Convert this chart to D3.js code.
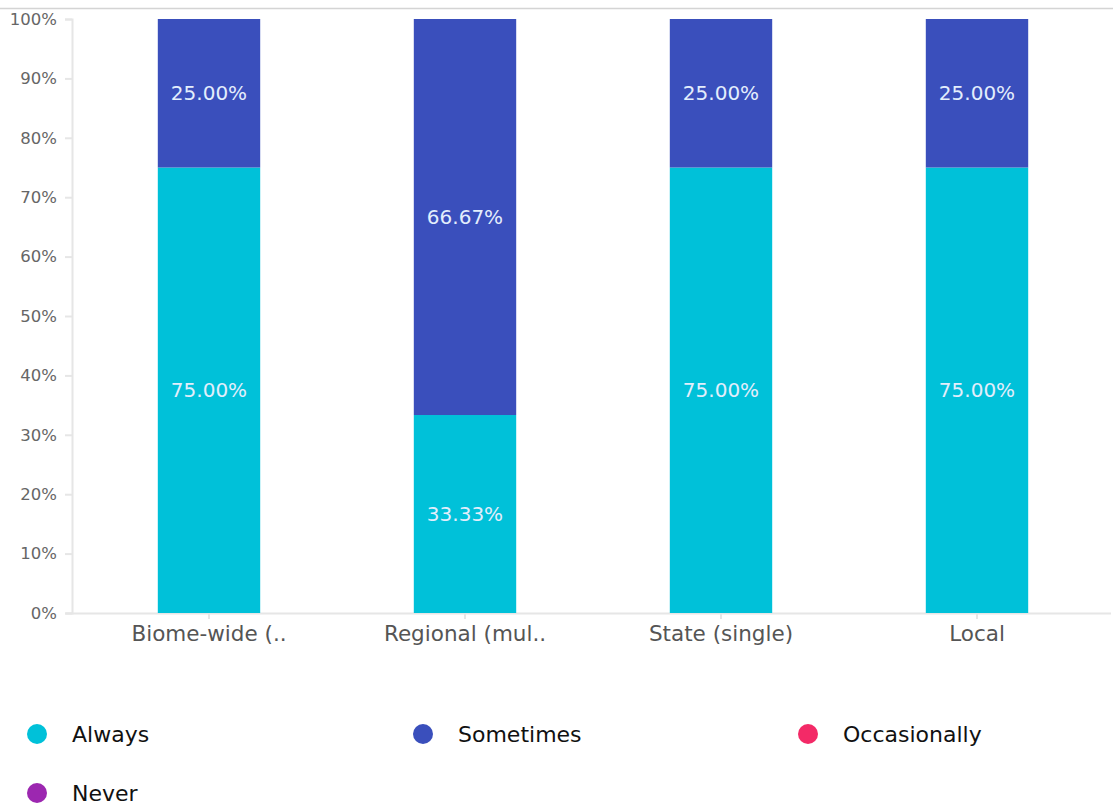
<!DOCTYPE html>
<html>
<head>
<meta charset="utf-8">
<script src="https://cdn.jsdelivr.net/npm/d3@7"></script>
<style>
  html, body { margin: 0; padding: 0; background: #fff; }
  svg { display: block; font-family: "DejaVu Sans", sans-serif; }
</style>
</head>
<body>
<svg id="chart" width="1113" height="805"></svg>
<script>
// Stacked 100% columns: how often each scope is reported
const categories = ["Biome-wide (..", "Regional (mul..", "State (single)", "Local"];
const seriesNames = ["Always", "Sometimes", "Occasionally", "Never"];
const always = [75.00, 33.33, 75.00, 75.00];
const sometimes = [25.00, 66.67, 25.00, 25.00];
const occasionally = [0, 0, 0, 0];
const never = [0, 0, 0, 0];
const yTicks = [0, 10, 20, 30, 40, 50, 60, 70, 80, 90, 100];
const colors = ["#00c1d9", "#3a4fbc", "#f32a67", "#9c27b0"];

const rows = categories.map((c, i) => ({
  category: c,
  Always: always[i],
  Sometimes: sometimes[i],
  Occasionally: occasionally[i],
  Never: never[i]
}));

const svg = d3.select("#chart");

// thin rule across the top
svg.append("line")
  .attr("x1", 0).attr("x2", 1113)
  .attr("y1", 8.5).attr("y2", 8.5)
  .attr("stroke", "#d4d4d4").attr("stroke-width", 1.5);

const x = d3.scaleBand().domain(categories).range([81, 1105]).paddingInner(0.6).paddingOuter(0.3);
const y = d3.scaleLinear().domain([0, 100]).range([613, 19]);

const stack = d3.stack().keys(seriesNames);
const layers = stack(rows);
const color = d3.scaleOrdinal().domain(seriesNames).range(colors);

// y axis
const yAxis = svg.append("g")
  .attr("transform", "translate(72,0)")
  .call(d3.axisLeft(y).tickValues(yTicks).tickFormat(d => d + "%").tickSize(7).tickPadding(8));
yAxis.select(".domain").attr("stroke", "#e6e6e6").attr("stroke-width", 2);
yAxis.selectAll(".tick line").attr("stroke", "#e6e6e6").attr("stroke-width", 2);
yAxis.selectAll(".tick text")
  .attr("fill", "#666").attr("font-size", 16.5).attr("font-family", "DejaVu Sans, sans-serif");

// x axis
const xAxis = svg.append("g")
  .attr("transform", "translate(0,613)")
  .call(d3.axisBottom(x).tickSize(6).tickPadding(7).tickSizeOuter(0));
xAxis.select(".domain").attr("stroke", "#e6e6e6").attr("stroke-width", 2)
  .attr("d", "M66,0.5H1111");
xAxis.selectAll(".tick line").attr("stroke", "#e6e6e6").attr("stroke-width", 2);
xAxis.selectAll(".tick text")
  .attr("fill", "#555").attr("font-size", 21.5).attr("font-family", "DejaVu Sans, sans-serif");

// stacked bars
const groups = svg.append("g").selectAll("g")
  .data(layers).join("g")
  .attr("fill", d => color(d.key));

groups.selectAll("rect")
  .data(d => d.map(p => ({ p, key: d.key })))
  .join("rect")
  .attr("x", d => x(d.p.data.category))
  .attr("width", x.bandwidth())
  .attr("y", d => y(d.p[1]))
  .attr("height", d => y(d.p[0]) - y(d.p[1]));

// value labels centred in each segment
const labels = [];
layers.forEach(layer => layer.forEach(p => {
  const v = p[1] - p[0];
  if (v > 0) labels.push({ cat: p.data.category, mid: (p[0] + p[1]) / 2, v });
}));
svg.append("g").selectAll("text")
  .data(labels).join("text")
  .attr("x", d => x(d.cat) + x.bandwidth() / 2)
  .attr("y", d => y(d.mid))
  .attr("dy", "0.35em")
  .attr("text-anchor", "middle")
  .attr("fill", "#e3eefc")
  .attr("font-size", 20)
  .text(d => d.v.toFixed(2) + "%");

// legend
const legendPos = [[37, 734], [423, 734], [808, 734], [37, 793]];
const legend = svg.append("g").selectAll("g")
  .data(seriesNames).join("g")
  .attr("transform", (d, i) => `translate(${legendPos[i][0]},${legendPos[i][1]})`);
legend.append("circle").attr("r", 10).attr("fill", d => color(d));
legend.append("text")
  .attr("x", 35).attr("dy", "0.35em")
  .attr("fill", "#111").attr("font-size", 22)
  .text(d => d);
</script>
</body>
</html>
